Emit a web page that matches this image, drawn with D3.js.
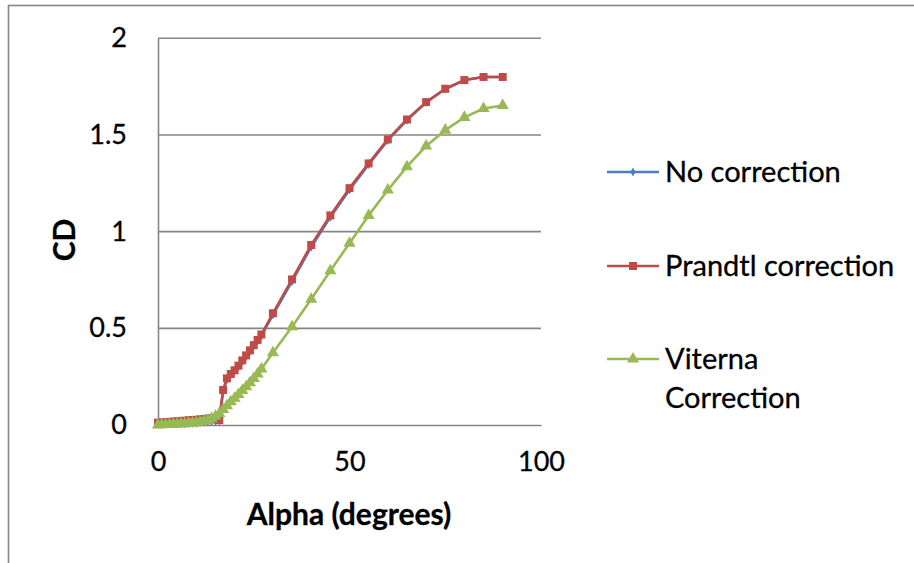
<!DOCTYPE html>
<html>
<head>
<meta charset="utf-8">
<script src="https://cdn.jsdelivr.net/npm/d3@7"></script>
<style>
  html, body { margin: 0; padding: 0; background: #fff; }
  svg { display: block; font-family: Lato, "Open Sans", sans-serif; }
  svg text { stroke: #000; stroke-width: 0.3px; }
</style>
</head>
<body>
<svg id="chart" width="914" height="563"></svg>
<script>
// Angle of attack (degrees)
const alpha = [0,1,2,3,4,5,6,7,8,9,10,11,12,13,14,15,16,17,18,19,20,21,22,23,24,25,26,27,
               30,35,40,45,50,55,60,65,70,75,80,85,90];

// Drag coefficient for each correction method
const cdNoCorrection = [0.006,0.006,0.006,0.006,0.006,0.006,0.006,0.007,0.008,0.009,0.010,0.012,0.014,0.016,0.018,0.020,0.022,
                        0.175,0.235,0.259,0.279,0.302,0.329,0.355,0.381,0.408,0.435,0.462,
                        0.570,0.743,0.921,1.075,1.217,1.347,1.472,1.577,1.668,1.738,1.784,1.800,1.800];
const cdPrandtl = [0.012,0.013,0.015,0.016,0.018,0.019,0.021,0.022,0.024,0.026,0.027,0.029,0.031,0.033,0.035,0.037,0.025,
                   0.181,0.241,0.264,0.283,0.307,0.334,0.360,0.386,0.413,0.440,0.468,
                   0.578,0.753,0.931,1.084,1.225,1.353,1.477,1.580,1.670,1.739,1.784,1.800,1.800];
const cdViterna = [0.000,0.001,0.002,0.003,0.004,0.005,0.006,0.007,0.009,0.011,0.013,0.016,0.020,0.025,0.033,0.045,0.060,
                   0.080,0.100,0.120,0.138,0.158,0.178,0.198,0.218,0.240,0.264,0.290,
                   0.374,0.508,0.650,0.798,0.940,1.084,1.215,1.336,1.443,1.525,1.591,1.637,1.652];

const seriesNames = ["No correction", "Prandtl correction", "Viterna Correction"];
const seriesColors = ["#4A7EBB", "#BE4B48", "#98B954"];
const seriesSymbols = [d3.symbolDiamond, d3.symbolSquare, d3.symbolTriangle];
const symbolSizes = [24, 64, 64];

const xTicks = [0, 50, 100];
const yTicks = [0, 0.5, 1, 1.5, 2];

const svg = d3.select("#chart");
const gridColor = "#868686";

// chart area frame
svg.append("rect")
  .attr("x", 8.5).attr("y", 5.5)
  .attr("width", 1000).attr("height", 1000)
  .attr("fill", "none").attr("stroke", gridColor).attr("stroke-width", 1.6);

const x = d3.scaleLinear().domain([0, 100]).range([158, 541]);
const y = d3.scaleLinear().domain([0, 2]).range([425, 38.3]);

// horizontal gridlines
svg.append("g").selectAll("line").data(yTicks.filter(v => v > 0)).join("line")
  .attr("x1", x(0)).attr("x2", x(100))
  .attr("y1", d => y(d)).attr("y2", d => y(d))
  .attr("stroke", gridColor).attr("stroke-width", 1.6);

// axes
const xAxis = svg.append("g").attr("transform", `translate(0,${y(0)})`)
  .call(d3.axisBottom(x).tickValues(xTicks).tickSize(0).tickPadding(27).tickFormat(d3.format("d")));
const yAxis = svg.append("g").attr("transform", `translate(${x(0)},0)`)
  .call(d3.axisLeft(y).tickValues(yTicks).tickSize(0).tickPadding(31).tickFormat(d => String(d)));
[xAxis, yAxis].forEach(g => {
  g.select(".domain").attr("stroke", gridColor).attr("stroke-width", 1.6);
  g.selectAll("text").attr("font-family", "Lato, sans-serif").attr("font-size", 27).attr("fill", "#000");
});

// axis titles
svg.append("text")
  .attr("x", 349).attr("y", 525)
  .attr("text-anchor", "middle")
  .attr("font-size", 30).attr("font-weight", "bold")
  .text("Alpha (degrees)");
svg.append("text")
  .attr("transform", "translate(75,240) rotate(-90)")
  .attr("text-anchor", "middle")
  .attr("font-size", 30).attr("font-weight", "bold")
  .text("CD");

// series
const allSeries = [cdNoCorrection, cdPrandtl, cdViterna];
const line = d3.line().x(d => x(d[0])).y(d => y(d[1]));
allSeries.forEach((vals, i) => {
  const pts = alpha.map((a, k) => [a, vals[k]]);
  const g = svg.append("g");
  g.append("path").attr("d", line(pts))
    .attr("fill", "none").attr("stroke", seriesColors[i]).attr("stroke-width", 2.6)
    .attr("stroke-linejoin", "round");
  g.selectAll("path.m").data(pts).join("path").attr("class", "m")
    .attr("transform", d => `translate(${x(d[0])},${y(d[1])})`)
    .attr("d", d3.symbol().type(seriesSymbols[i]).size(symbolSizes[i]))
    .attr("fill", seriesColors[i]);
});

// legend
const legendRows = [172, 266, 359];
seriesNames.forEach((name, i) => {
  const g = svg.append("g").attr("transform", `translate(0,${legendRows[i]})`);
  g.append("line").attr("x1", 607).attr("x2", 659).attr("y1", 0).attr("y2", 0)
    .attr("stroke", seriesColors[i]).attr("stroke-width", 2.6);
  g.append("path").attr("transform", "translate(633,0)")
    .attr("d", d3.symbol().type(seriesSymbols[i]).size(symbolSizes[i]))
    .attr("fill", seriesColors[i]);
  const words = i === 2 ? ["Viterna", "Correction"] : [name];
  words.forEach((w, j) => {
    g.append("text").attr("x", 665).attr("y", j * 39)
      .attr("dy", "0.36em").attr("font-size", 29).attr("fill", "#000")
      .text(w);
  });
});
</script>
</body>
</html>
